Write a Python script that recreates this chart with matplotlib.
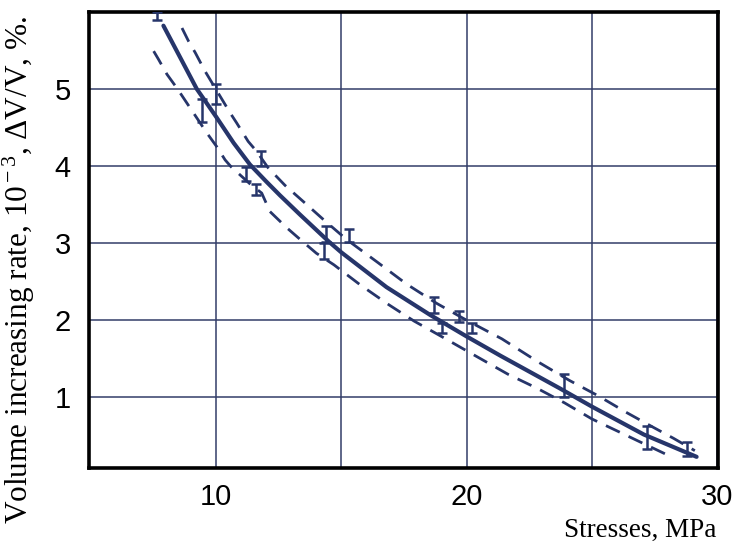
import matplotlib.pyplot as plt
import numpy as np

plt.rcParams['mathtext.fontset'] = 'custom'
plt.rcParams['mathtext.rm'] = 'Liberation Serif'
plt.rcParams['mathtext.it'] = 'Liberation Serif:italic'

# mean curve
stress = [7.9, 9.23, 10.0, 10.7, 11.35, 12.0, 12.55, 13.35, 14.5, 15.0, 16.8, 18.54, 20.0, 21.35, 23.7, 25.0, 27.06, 29.17]
rate = [5.82, 5.0, 4.64, 4.3, 4.02, 3.8, 3.62, 3.37, 3.02, 2.88, 2.43, 2.07, 1.79, 1.54, 1.12, 0.88, 0.52, 0.23]

# upper bound (dashed)
up_x = [8.64, 8.9, 9.17, 9.56, 10.56, 10.82, 11.28, 11.62, 12.07, 12.75, 13.48, 14.34, 15.2, 16.45,
        17.6, 18.8, 20.0, 21.4, 22.85, 24.1, 25.25, 26.4, 27.4, 28.25, 29.1]
up_y = [5.79, 5.62, 5.47, 5.23, 4.69, 4.56, 4.32, 4.19, 3.98, 3.75, 3.54, 3.29, 3.05, 2.75,
        2.47, 2.22, 2.0, 1.76, 1.46, 1.22, 1.02, 0.8, 0.62, 0.47, 0.31]

# lower bound (dashed)
lo_x = [7.51, 7.71, 8.04, 8.44, 9.63, 10.03, 10.36, 10.6, 11.35, 11.82, 12.15, 12.82, 13.35, 14.0,
        14.7, 15.75, 16.9, 17.9, 19.05, 20.4, 21.65, 22.8, 23.9, 25.0, 26.1, 27.0, 28.1]
lo_y = [5.49, 5.38, 5.19, 5.01, 4.43, 4.25, 4.08, 3.99, 3.77, 3.65, 3.41, 3.2, 3.05, 2.87,
        2.72, 2.46, 2.2, 1.99, 1.78, 1.53, 1.3, 1.12, 0.93, 0.72, 0.55, 0.41, 0.24]

# measured points with spread
pts_x = [7.65, 9.45, 10.0, 11.2, 11.6, 11.8, 14.3, 14.4, 15.3, 18.7, 19.0, 19.7, 20.2, 23.9, 27.2, 28.8]
pts_y = [5.95, 4.72, 4.93, 3.9, 3.7, 4.1, 2.9, 3.12, 3.1, 2.2, 1.9, 2.05, 1.9, 1.15, 0.48, 0.33]
pts_err = [0.05, 0.15, 0.13, 0.09, 0.07, 0.1, 0.1, 0.1, 0.08, 0.1, 0.07, 0.07, 0.07, 0.15, 0.15, 0.09]

navy = '#26356a'

fig = plt.figure(figsize=(7.33, 5.47), dpi=100)
ax = fig.add_axes([0.1214, 0.1444, 0.858, 0.834])

ax.plot(stress, rate, color=navy, lw=3.0, solid_capstyle='round', solid_joinstyle='round', zorder=4)
ax.plot(up_x, up_y, color=navy, lw=2.0, linestyle=(0, (5.5, 3.5)), zorder=3)
ax.plot(lo_x, lo_y, color=navy, lw=2.0, linestyle=(0, (5.5, 3.5)), zorder=3)
ax.errorbar(pts_x, pts_y, yerr=pts_err, fmt='none', ecolor=navy, elinewidth=1.8,
            capsize=3.5, capthick=1.8, zorder=3)

ax.set_xlim(4.93, 30.02)
ax.set_ylim(0.085, 6.0)
ax.set_xticks([10, 20, 30])
ax.set_xticks([15, 25], minor=True)
ax.set_yticks([1, 2, 3, 4, 5])
ax.grid(True, which='both', color='#333d68', lw=1.1)
ax.tick_params(which='both', length=0)
ax.tick_params(axis='x', pad=11, labelsize=21)
ax.tick_params(axis='y', pad=13, labelsize=21)
for lbl in ax.get_xticklabels() + ax.get_yticklabels():
    lbl.set_family('Liberation Sans')
for s in ax.spines.values():
    s.set_linewidth(2.6)
    s.set_color('black')

fig.text(0.873, 0.031, 'Stresses, MPa', family='Liberation Serif', fontsize=19.5,
         ha='center', va='center')
fig.text(0.026, 0.506, r'Volume increasing rate, 10$^{\rm -3}$, $\Delta$V/V, %.',
         family='Liberation Serif', fontsize=22.5, rotation=90, ha='center', va='center')

fig.savefig('out.png', dpi=100)
